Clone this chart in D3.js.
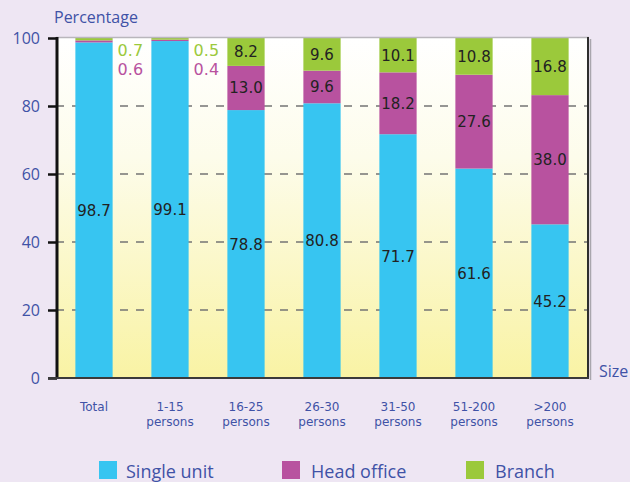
<!DOCTYPE html>
<html>
<head>
<meta charset="utf-8">
<script src="https://cdn.jsdelivr.net/npm/d3@7"></script>
<style>
  html, body { margin: 0; padding: 0; background: #EEE6F3; }
  svg { display: block; font-family: "Open Sans", sans-serif; }
</style>
</head>
<body>
<svg id="chart" width="630" height="482"></svg>
<script>
// Establishment size groups
const categories = [["Total"], ["1-15", "persons"], ["16-25", "persons"], ["26-30", "persons"],
                    ["31-50", "persons"], ["51-200", "persons"], [">200", "persons"]];
const seriesNames = ["Single unit", "Head office", "Branch"];
const singleUnit = [98.7, 99.1, 78.8, 80.8, 71.7, 61.6, 45.2];
const headOffice = [0.6, 0.4, 13.0, 9.6, 18.2, 27.6, 38.0];
const branch     = [0.7, 0.5, 8.2, 9.6, 10.1, 10.8, 16.8];
const yTicks = [0, 20, 40, 60, 80, 100];
const colors = ["#37C5F1", "#B8529F", "#9BC93B"];
const textBlue = "#4052A6";
const labelFont = "DejaVu Sans";

const svg = d3.select("#chart");
const plotL = 56, plotR = 588, plotT = 38, plotB = 378;

const keys = categories.map(c => c.join(" "));
const rows = keys.map((k, i) => ({ key: k, s0: singleUnit[i], s1: headOffice[i], s2: branch[i] }));
const stack = d3.stack().keys(["s0", "s1", "s2"])(rows);

const x = d3.scaleBand().domain(keys).range([plotL, plotR]).paddingInner(0.51).paddingOuter(0.255);
const y = d3.scaleLinear().domain([0, 100]).range([plotB, plotT]);

// Plot background gradient
const defs = svg.append("defs");
const grad = defs.append("linearGradient").attr("id", "plotBg").attr("x1", 0).attr("y1", 0).attr("x2", 0).attr("y2", 1);
grad.append("stop").attr("offset", "0%").attr("stop-color", "#FFFFFF");
grad.append("stop").attr("offset", "35%").attr("stop-color", "#FDFCEB");
grad.append("stop").attr("offset", "100%").attr("stop-color", "#F9F3A4");

svg.append("rect").attr("x", plotL).attr("y", plotT).attr("width", plotR - plotL).attr("height", plotB - plotT)
  .attr("fill", "url(#plotBg)");

// Dashed grid lines
svg.append("g").selectAll("line").data(yTicks.filter(t => t > 0 && t < 100)).join("line")
  .attr("x1", plotL).attr("x2", plotR)
  .attr("y1", d => y(d)).attr("y2", d => y(d))
  .attr("stroke", "#747474").attr("stroke-width", 1.3).attr("stroke-dasharray", "8,8");

// Stacked bars
const layers = svg.append("g").selectAll("g").data(stack).join("g").attr("fill", (d, i) => colors[i]);
layers.selectAll("rect").data(d => d).join("rect")
  .attr("x", d => x(d.data.key))
  .attr("width", x.bandwidth())
  .attr("y", d => y(d[1]))
  .attr("height", d => y(d[0]) - y(d[1]));

// Frame: top and right edges
svg.append("line").attr("x1", plotL).attr("x2", plotR + 1).attr("y1", plotT - 0.5).attr("y2", plotT - 0.5)
  .attr("stroke", "#B9B6BC").attr("stroke-width", 1.5);
svg.append("line").attr("x1", plotR + 2.5).attr("x2", plotR + 2.5).attr("y1", plotT + 1).attr("y2", plotB + 2)
  .attr("stroke", "#A9A6AD").attr("stroke-width", 1.5);
svg.append("line").attr("x1", plotR).attr("x2", plotR).attr("y1", plotT - 1).attr("y2", plotB)
  .attr("stroke", "#2E2E2E").attr("stroke-width", 2);

// Y axis
const yAxis = svg.append("g").attr("transform", `translate(${plotL + 1},0)`)
  .call(d3.axisLeft(y).tickValues(yTicks).tickSize(9).tickPadding(8).tickFormat(d3.format("d")));
yAxis.select(".domain").attr("stroke", "#111").attr("stroke-width", 3)
  .attr("d", `M0,${plotT - 1}V${plotB + 1}`);
yAxis.selectAll(".tick line").attr("stroke", "#111").attr("stroke-width", 2.5);
yAxis.selectAll(".tick text").attr("fill", textBlue).attr("font-size", 16).attr("font-family", "Open Sans");

// X axis baseline
svg.append("line").attr("x1", plotL - 8).attr("x2", plotR + 1).attr("y1", plotB).attr("y2", plotB)
  .attr("stroke", "#3A3A3A").attr("stroke-width", 2);

// Category labels, one text per line
const lineGroups = svg.append("g").selectAll("g").data(categories).join("g")
  .attr("transform", (d, i) => `translate(${x(keys[i]) + x.bandwidth() / 2},0)`);
lineGroups.selectAll("text").data(d => d).join("text")
  .attr("text-anchor", "middle").attr("fill", textBlue)
  .attr("font-family", labelFont).attr("font-size", 12)
  .attr("y", (d, i) => 411 + i * 15)
  .text(d => d);

// Axis titles
svg.append("text").attr("x", 54).attr("y", 23).attr("fill", textBlue).attr("font-size", 16).text("Percentage");
svg.append("text").attr("x", 599).attr("y", 377).attr("fill", textBlue).attr("font-size", 16).text("Size");

// Value labels inside segments (small segments get labels beside the bar)
const values = [singleUnit, headOffice, branch];
stack.forEach((layer, si) => {
  layer.forEach((d, ci) => {
    const v = values[si][ci];
    const h = y(d[0]) - y(d[1]);
    const cx = x(keys[ci]) + x.bandwidth() / 2;
    if (h >= 20) {
      svg.append("text").attr("x", cx).attr("y", (y(d[0]) + y(d[1])) / 2 + 5.5)
        .attr("text-anchor", "middle").attr("fill", "#222")
        .attr("font-family", labelFont).attr("font-size", 15)
        .text(d3.format(".1f")(v));
    } else {
      svg.append("text").attr("x", x(keys[ci]) + x.bandwidth() + 5)
        .attr("y", si === 2 ? 56 : 75)
        .attr("fill", colors[si]).attr("font-family", labelFont).attr("font-size", 16)
        .text(d3.format(".1f")(v));
    }
  });
});

// Legend
const legendX = [99, 282, 466];
const lg = svg.append("g").selectAll("g").data(seriesNames).join("g")
  .attr("transform", (d, i) => `translate(${legendX[i]},461)`);
lg.append("rect").attr("width", 18).attr("height", 18).attr("fill", (d, i) => colors[i]);
lg.append("text").attr("x", (d, i) => i === 0 ? 27 : 29).attr("y", 17)
  .attr("fill", textBlue).attr("font-size", 18).text(d => d);
</script>
</body>
</html>
